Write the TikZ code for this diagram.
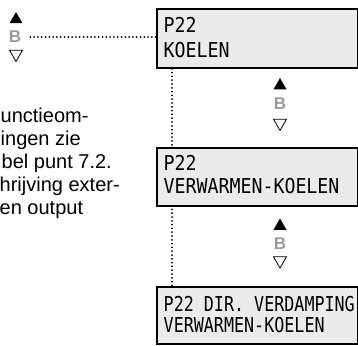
\documentclass[tikz,border=0pt]{standalone}
\usepackage{fontspec}
\setmainfont{Liberation Sans}
\newfontfamily\lcdfont[FakeStretch=0.89]{DejaVu Sans Mono}
\newfontfamily\lcdfontn[FakeStretch=0.815]{DejaVu Sans Mono}
\usetikzlibrary{shapes.geometric,calc,backgrounds}
\definecolor{lcdfill}{HTML}{EBEBEB}
\definecolor{bgray}{HTML}{9A9A9A}
\tikzset{
  lcdbox/.style={draw=black, line width=1.8pt, fill=lcdfill, inner sep=0pt,
    minimum width=201pt, anchor=north west},
  lcdtext/.style={inner sep=0pt, anchor=base west, font=\lcdfont\fontsize{20.5}{21}\selectfont},
  lcdtextn/.style={inner sep=0pt, anchor=base west, font=\lcdfontn\fontsize{20.5}{21}\selectfont},
  bodytext/.style={inner sep=0pt, anchor=base west, font=\fontsize{20}{23}\selectfont},
  upkey/.style={regular polygon, regular polygon sides=3, minimum size=15pt, inner sep=0pt, fill=black, draw=none},
  downkey/.style={regular polygon, regular polygon sides=3, shape border rotate=180, minimum size=15pt, inner sep=0pt, fill=white, draw=black, line width=0.8pt},
  bkey/.style={inner sep=0pt, text=bgray, font=\bfseries\fontsize{17}{17}\selectfont},
  dotline/.style={line width=2pt, line cap=round, dash pattern=on 0pt off 3.8pt}
}
\begin{document}
\begin{tikzpicture}[x=1pt,y=-1pt]
\useasboundingbox (0,0) rectangle (358,345);
% boxes
\node[lcdbox, minimum height=59pt] (b1) at (156,8) {};
\node[lcdbox, minimum height=58pt] (b2) at (156,147) {};
\node[lcdbox, minimum height=57pt] (b3) at (156,286) {};
\node[lcdtext] (t1a) at (163.5,33) {P22};
\node[lcdtext] (t1b) at (163.5,57) {KOELEN};
\node[lcdtext] (t2a) at (163.5,170) {P22};
\node[lcdtext] (t2b) at (163.5,193) {VERWARMEN-KOELEN};
\node[lcdtextn] (t3a) at (163.5,311) {P22 DIR. VERDAMPING};
\node[lcdtextn] (t3b) at (163.5,332) {VERWARMEN-KOELEN};
% keys left
\node[upkey] (lu) at (16,19.5) {};
\node[bkey] (lb) at (15,37) {B};
\node[downkey] (ld) at (16,54) {};
% keys middle 1
\node[upkey] (mu1) at (280,85.5) {};
\node[bkey] (mb1) at (280,104) {B};
\node[downkey] (md1) at (280,123) {};
% keys middle 2
\node[upkey] (mu2) at (280,226) {};
\node[bkey] (mb2) at (280,244) {B};
\node[downkey] (md2) at (280,260.5) {};
% connectors (behind the boxes)
\begin{pgfonlayer}{background}
\draw[dotline, shorten <=9pt] (lb.east) -- (lb.east -| b1.west);
\draw[dotline] ($(b1.south west)+(16,0)$) -- ($(b3.north west)+(16,0)$);
\end{pgfonlayer}
% body text
\node[bodytext] (p1) at (0.5,122) {unctieom-};
\node[bodytext] (p2) at (0.5,145) {ingen zie};
\node[bodytext] (p3) at (1.5,168) {bel punt 7.2.};
\node[bodytext] (p4) at (-0.5,191) {hrijving exter-};
\node[bodytext] (p5) at (-0.5,214) {en output};
\end{tikzpicture}
\end{document}
